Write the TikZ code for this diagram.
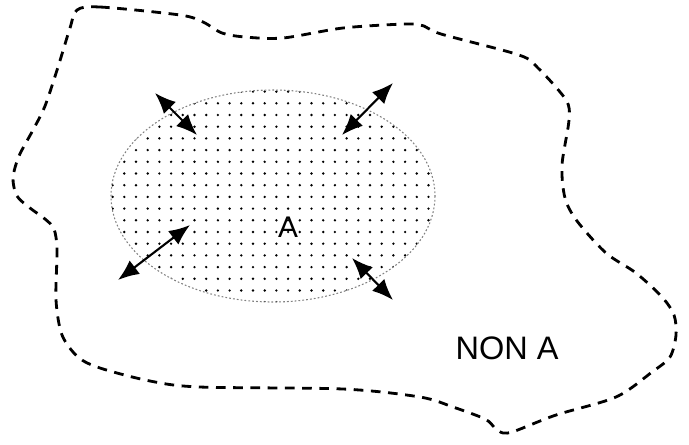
\documentclass[tikz,border=0pt]{standalone}
\usepackage{fontspec}
\setmainfont{Liberation Sans}
\usetikzlibrary{arrows.meta}

\begin{document}
\begin{tikzpicture}[x=0.02cm,y=-0.02cm,
  border/.style={line width=1.6pt,dash pattern=on 5.5pt off 4.3pt},
  rim/.style={gray,line width=0.6pt,dash pattern=on 1pt off 1.2pt},
  flow/.style={line width=1.2pt,{Latex[length=4.2mm,width=3.4mm]}-{Latex[length=4.2mm,width=3.4mm]}},
  lab/.style={inner sep=0pt}]
  \useasboundingbox (0,0) rectangle (689,444);
  % outer region (non A)
  \draw[border] plot[smooth cycle,tension=0.5] coordinates {
    (77,10) (100,7) (180,15) (203,22) (222,33) (245,37) (283,38) (343,28)
    (406,24) (424,26) (441,34) (519,55) (538,68) (566,100) (569,120) (562,165)
    (565,198) (577,221) (606,253) (636,273) (662,297) (674,315) (676,335)
    (670,357) (652,372) (616,397) (556,415) (515,431) (503,433) (495,428)
    (485,419) (453,407) (420,397) (343,389) (200,387) (150,381) (100,368)
    (78,357) (62,335) (56,300) (57,250) (54,229) (45,219) (30,208) (17,196)
    (13,178) (19,156) (33,130) (45,106) (58,67) (70,28)};
  % region A
  \begin{scope}
    \clip (273,196) ellipse [x radius=162, y radius=106];
    \foreach \i in {0,...,29}
      \foreach \j in {0,...,18}
        \fill (100.9+11.7*\i,91.6+11.7*\j) circle (0.75pt);
  \end{scope}
  \draw[rim] (273,196) ellipse [x radius=162, y radius=106];
  \node[lab,font=\fontsize{17}{17}\selectfont] (a) at (288,227) {A};
  \node[lab,font=\fontsize{18.5}{18.5}\selectfont] (nona) at (507,348) {NON A};
  % exchanges across the boundary
  \coordinate (tlo) at (155,93);  \coordinate (tli) at (197,135);
  \coordinate (tro) at (393,83);  \coordinate (tri) at (342,135);
  \coordinate (blo) at (118,280); \coordinate (bli) at (190,225);
  \coordinate (bro) at (393,300); \coordinate (bri) at (352,258);
  \draw[flow] (tlo) -- (tli);
  \draw[flow] (tro) -- (tri);
  \draw[flow] (blo) -- (bli);
  \draw[flow] (bro) -- (bri);
\end{tikzpicture}
\end{document}
